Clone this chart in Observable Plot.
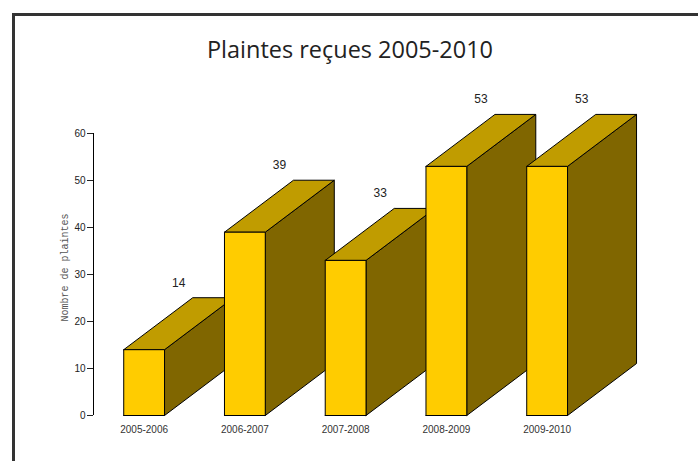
<!DOCTYPE html>
<html>
<head>
<meta charset="utf-8">
<script src="https://cdn.jsdelivr.net/npm/d3@7"></script>
<script src="https://cdn.jsdelivr.net/npm/@observablehq/plot@0.6"></script>
<style>
  html, body { margin: 0; padding: 0; background: #fff; }
  #wrap { position: relative; width: 698px; height: 461px; overflow: hidden; background: #fff; }
  #border { position: absolute; left: 12px; top: 13px; width: 720px; height: 480px; border: 3px solid #333; box-sizing: border-box; }
  #chart { position: absolute; left: 0; top: 0; }
  #chart svg { overflow: visible; }
</style>
</head>
<body>
<div id="wrap">
  <div id="border"></div>
  <div id="chart"></div>
</div>
<script>
// ---- data ----
const title = "Plaintes reçues 2005-2010";
const yLabel = "Nombre de plaintes";
const categories = ["2005-2006", "2006-2007", "2007-2008", "2008-2009", "2009-2010"];
const values = [14, 39, 33, 53, 53];
const yTicks = [0, 10, 20, 30, 40, 50, 60];

// ---- style / geometry (in scale units) ----
const xMin = -0.3, xMax = 5.5;
const barW = 0.405;     // front face width
const depthX = 0.685;   // 3D depth, x
const depthY = 11.06;   // 3D depth, y
const colFront = "#FFCC00", colTop = "#C09C00", colSide = "#806600";

// build face polygons (drawn bar by bar: side, top, front)
const faces = [];
values.forEach((v, i) => {
  const x0 = i, x1 = i + barW;
  const add = (name, color, pts) => pts.forEach(([x, y]) => faces.push({id: `${i}-${name}`, color, x, y}));
  add("side", colSide, [[x1, 0], [x1 + depthX, depthY], [x1 + depthX, v + depthY], [x1, v], [x1, 0]]);
  add("top", colTop, [[x0, v], [x1, v], [x1 + depthX, v + depthY], [x0 + depthX, v + depthY], [x0, v]]);
  add("front", colFront, [[x0, 0], [x1, 0], [x1, v], [x0, v], [x0, 0]]);
});
const bars = values.map((v, i) => ({cat: categories[i], v, i}));

const plot = Plot.plot({
  width: 698,
  height: 461,
  marginLeft: 93,
  marginRight: 20.65,
  marginTop: 133,
  marginBottom: 46,
  style: {fontFamily: "'Liberation Sans', Arial, sans-serif", background: "transparent"},
  x: {domain: [xMin, xMax], axis: null},
  y: {domain: [0, 60], axis: null},
  color: {type: "identity"},
  marks: [
    Plot.ruleX([xMin], {y1: 0, y2: 60, stroke: "#000", strokeWidth: 1}),
    Plot.axisY(yTicks, {tickSize: 6, tickPadding: 2, fontSize: 10, color: "#222", label: null}),
    Plot.text([yLabel], {frameAnchor: "left", textAnchor: "middle", rotate: -90, dx: -29, dy: -7,
      fontFamily: "'Liberation Mono', 'DejaVu Sans Mono', monospace", fontSize: 10, fill: "#555"}),
    Plot.line(faces, {x: "x", y: "y", z: "id", fill: "color", stroke: "#000", strokeWidth: 1, strokeLinejoin: "miter"}),
    Plot.text(bars, {x: d => d.i + barW / 2 + depthX / 2, y: d => d.v + depthY, text: d => String(d.v),
      dy: -15, fontSize: 12, fill: "#222"}),
    Plot.text(bars, {x: d => d.i + barW / 2, y: () => 0, text: "cat", dy: 14, fontSize: 10, fill: "#333"})
  ]
});

document.getElementById("chart").appendChild(plot);

// title
const svg = d3.select(plot);
svg.append("text")
  .attr("x", 350)
  .attr("y", 58.3)
  .attr("text-anchor", "middle")
  .attr("font-family", "'Open Sans', 'Noto Sans', sans-serif")
  .attr("font-size", 23)
  .attr("fill", "#222")
  .attr("textLength", 286)
  .attr("lengthAdjust", "spacingAndGlyphs")
  .text(title);
</script>
</body>
</html>
